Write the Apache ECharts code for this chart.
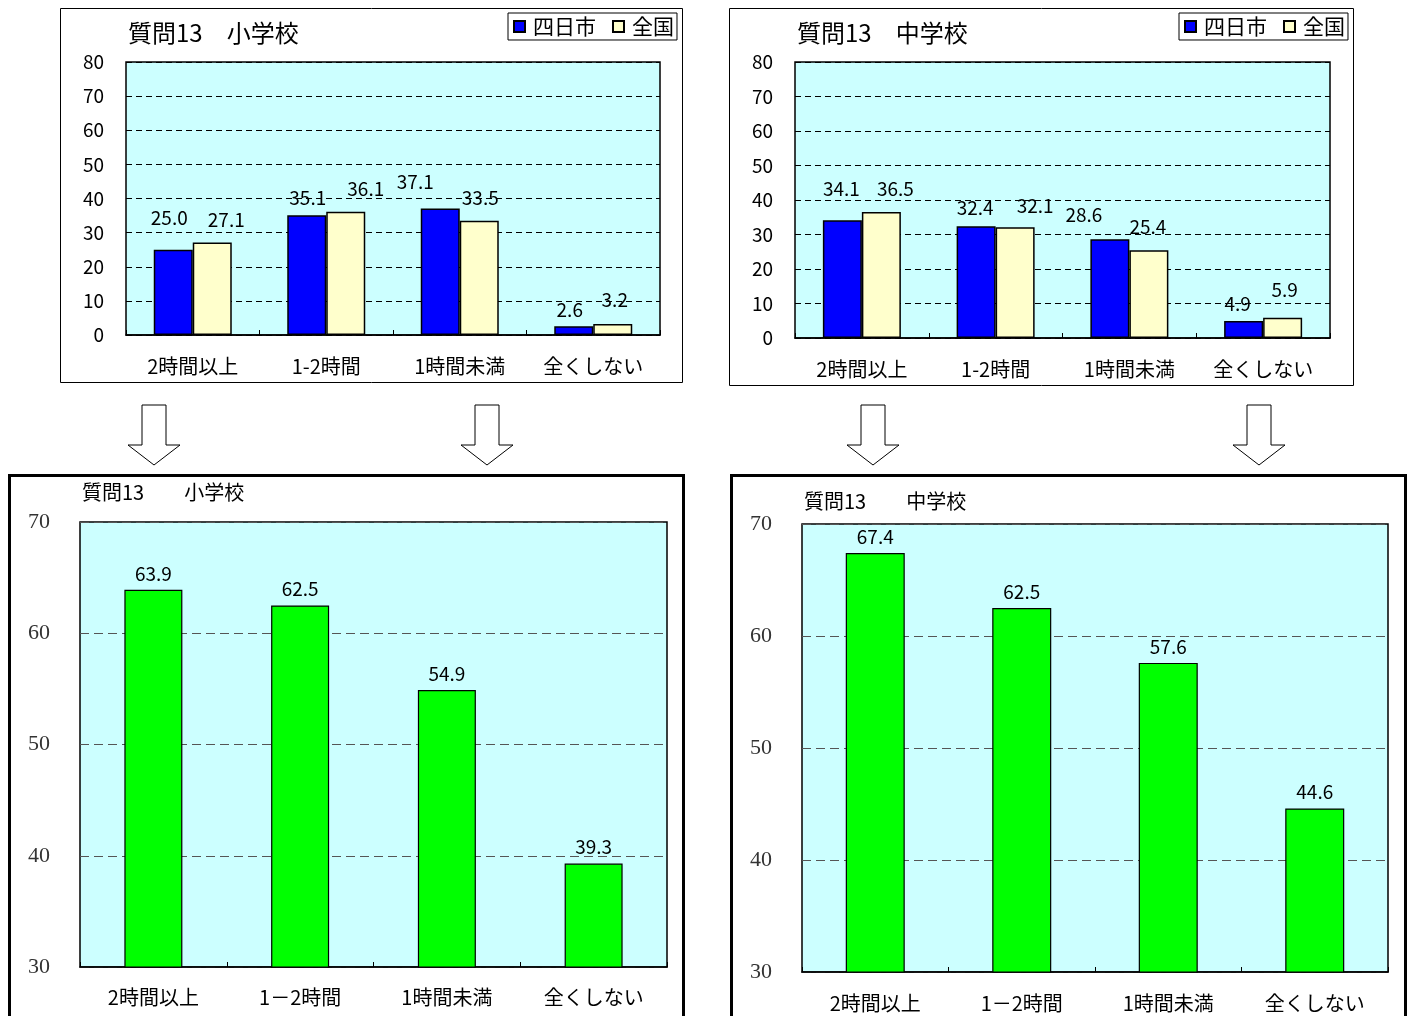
<!DOCTYPE html>
<html>
<head>
<meta charset="utf-8">
<script src="https://cdn.jsdelivr.net/npm/echarts@6/dist/echarts.min.js"></script>
<style>
html, body { margin: 0; padding: 0; background: #fff; }
#chart { width: 1411px; height: 1016px; }
</style>
</head>
<body>
<div id="chart"></div>
<script>
// Categories (study time per day)
const topCategories = ['2時間以上', '1-2時間', '1時間未満', '全くしない'];
const bottomCategories = ['2時間以上', '1－2時間', '1時間未満', '全くしない'];

// Question 13 – elementary school (%)
const elemYokkaichi = [25.0, 35.1, 37.1, 2.6];
const elemNational = [27.1, 36.1, 33.5, 3.2];
// Question 13 – junior high school (%)
const juniorYokkaichi = [34.1, 32.4, 28.6, 4.9];
const juniorNational = [36.5, 32.1, 25.4, 5.9];

// Lower panels
const elemScore = [63.9, 62.5, 54.9, 39.3];
const juniorScore = [67.4, 62.5, 57.6, 44.6];

// Value axis ranges
const topAxis = { min: 0, max: 80, interval: 10 };
const bottomAxis = { min: 30, max: 70, interval: 10 };

// Hand-placed label nudges [dx, dy] for the upper panels
const elemYokkaichiLabelShift = [[-4, -22], [1, -8], [-25, -17], [-4, -7]];
const elemNationalLabelShift = [[14, -13], [20, -14], [1, -13], [2, -15]];
const juniorYokkaichiLabelShift = [[-1, -22], [-1, -9], [-26, -15], [-6, -8]];
const juniorNationalLabelShift = [[14, -14], [20, -12], [-1, -14], [2, -18]];

const JP = '"Noto Sans CJK JP", "Noto Sans", sans-serif';
const SERIF = '"Liberation Serif", "DejaVu Serif", serif';

const chart = echarts.init(document.getElementById('chart'), null, { renderer: 'canvas' });

function withShift(values, shifts) {
  return values.map((v, i) => ({ value: v, label: { offset: shifts[i] } }));
}

function topBar(name, values, shifts, color, idx) {
  return {
    name: name,
    type: 'bar',
    xAxisIndex: idx,
    yAxisIndex: idx,
    data: withShift(values, shifts),
    barWidth: 39,
    barGap: '0%',
    itemStyle: { color: color, borderColor: '#000', borderWidth: 1.5 },
    label: {
      show: true, position: 'top', distance: 0,
      fontFamily: JP, fontSize: 19, color: '#000',
      formatter: p => p.value.toFixed(1)
    },
    emphasis: { disabled: true }
  };
}

function bottomBar(values, idx, width) {
  return {
    name: '平均正答率',
    type: 'bar',
    xAxisIndex: idx,
    yAxisIndex: idx,
    data: values,
    barWidth: width,
    itemStyle: { color: '#00FF00', borderColor: '#000', borderWidth: 1.2 },
    label: {
      show: true, position: 'top', distance: 7,
      fontFamily: JP, fontSize: 19, color: '#000',
      formatter: p => p.value.toFixed(1)
    },
    emphasis: { disabled: true }
  };
}

function xCat(gridIndex, cats, fontSize, margin) {
  return {
    type: 'category', gridIndex: gridIndex, data: cats,
    axisLine: { show: true, lineStyle: { color: '#000', width: 1.5 } },
    axisTick: { show: true, inside: true, length: 5, lineStyle: { color: '#000' } },
    axisLabel: { fontFamily: JP, fontSize: fontSize, color: '#000', margin: margin },
    splitLine: { show: false }
  };
}

function yTop(gridIndex) {
  return {
    type: 'value', gridIndex: gridIndex,
    min: topAxis.min, max: topAxis.max, interval: topAxis.interval,
    axisLine: { show: false }, axisTick: { show: false },
    axisLabel: { fontFamily: JP, fontSize: 19, color: '#000', margin: 22 },
    splitLine: { show: true, lineStyle: { color: '#000', type: [6, 4], width: 1 } }
  };
}

function yBottom(gridIndex) {
  return {
    type: 'value', gridIndex: gridIndex,
    min: bottomAxis.min, max: bottomAxis.max, interval: bottomAxis.interval,
    axisLine: { show: false }, axisTick: { show: false },
    axisLabel: { fontFamily: SERIF, fontSize: 22, color: '#333', margin: 30 },
    splitLine: { show: true, lineStyle: { color: '#555', type: [9, 5], width: 1 } }
  };
}

// Hollow down arrow shape
function arrow(cx) {
  const y0 = 405, y1 = 445, y2 = 465, hs = 12, hh = 26;
  return {
    type: 'polygon', z: 10,
    shape: { points: [[cx - hs, y0], [cx + hs, y0], [cx + hs, y1], [cx + hh, y1], [cx, y2], [cx - hh, y1], [cx - hs, y1]] },
    style: { fill: '#fff', stroke: '#000', lineWidth: 1 }
  };
}

function frame(x, y, w, h, lw) {
  return {
    type: 'rect', z: 0, silent: true,
    shape: { x: x, y: y, width: w, height: h },
    style: { fill: null, stroke: '#000', lineWidth: lw }
  };
}

const gridBase = { show: true, backgroundColor: '#CCFFFF', borderColor: '#000', borderWidth: 1.5, containLabel: false };

const legendBase = {
  data: ['四日市', '全国'],
  top: 13,
  orient: 'horizontal',
  icon: 'rect',
  itemWidth: 11, itemHeight: 11, itemGap: 16,
  padding: [3, 3, 3, 5],
  backgroundColor: '#fff',
  borderColor: '#000', borderWidth: 1,
  selectedMode: false,
  textStyle: { fontFamily: JP, fontSize: 21, color: '#000', padding: [0, 0, 0, 3] }
};

const titleStyle = (size) => ({ fontFamily: JP, fontSize: size, fontWeight: 'normal', color: '#000' });

const option = {
  animation: false,
  backgroundColor: '#fff',
  title: [
    { text: '質問13　小学校', left: 128, top: 21, padding: 0, textStyle: titleStyle(24) },
    { text: '質問13　中学校', left: 797, top: 21, padding: 0, textStyle: titleStyle(24) },
    { text: '質問13　　小学校', left: 82, top: 482, padding: 0, textStyle: titleStyle(20) },
    { text: '質問13　　中学校', left: 804, top: 491, padding: 0, textStyle: titleStyle(20) }
  ],
  legend: [
    Object.assign({}, legendBase, { left: 508 }),
    Object.assign({}, legendBase, { left: 1179 })
  ],
  grid: [
    Object.assign({}, gridBase, { left: 126, right: 751, top: 62, bottom: 681 }),
    Object.assign({}, gridBase, { left: 795, right: 81, top: 62, bottom: 678 }),
    Object.assign({}, gridBase, { left: 80, right: 744, top: 522, bottom: 49 }),
    Object.assign({}, gridBase, { left: 802, right: 23, top: 524, bottom: 44 })
  ],
  xAxis: [
    xCat(0, topCategories, 20, 21),
    xCat(1, topCategories, 20, 21),
    xCat(2, bottomCategories, 20, 20),
    xCat(3, bottomCategories, 20, 21)
  ],
  yAxis: [yTop(0), yTop(1), yBottom(2), yBottom(3)],
  series: [
    topBar('四日市', elemYokkaichi, elemYokkaichiLabelShift, '#0000FF', 0),
    topBar('全国', elemNational, elemNationalLabelShift, '#FFFFCC', 0),
    topBar('四日市', juniorYokkaichi, juniorYokkaichiLabelShift, '#0000FF', 1),
    topBar('全国', juniorNational, juniorNationalLabelShift, '#FFFFCC', 1),
    bottomBar(elemScore, 2, 58),
    bottomBar(juniorScore, 3, 59)
  ],
  graphic: [
    frame(60.5, 8.5, 622, 374, 1),
    frame(729.5, 8.5, 624, 377, 1),
    frame(9.5, 475.5, 674, 545, 3),
    frame(731.5, 475.5, 674, 545, 3),
    arrow(154), arrow(487), arrow(873), arrow(1259)
  ]
};

chart.setOption(option);
</script>
</body>
</html>
